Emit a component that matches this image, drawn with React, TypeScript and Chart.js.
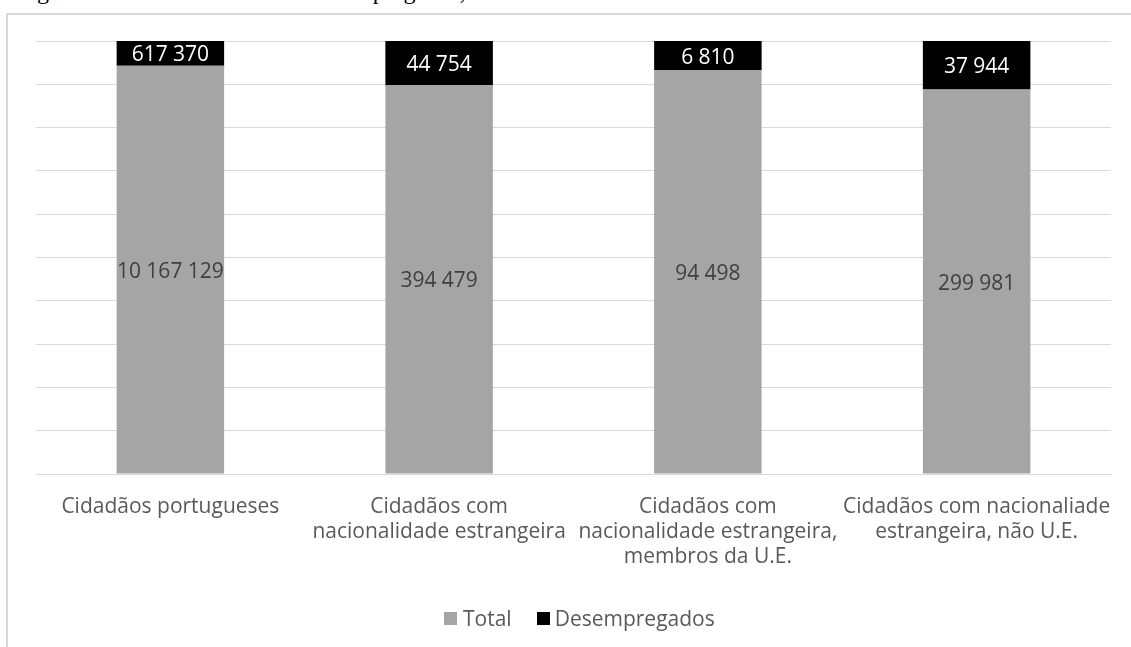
import React, { useEffect, useRef } from "react";
import { Chart, registerables } from "chart.js";

Chart.register(...registerables);

const categories: (string | string[])[] = [
  "Cidadãos portugueses",
  ["Cidadãos com", "nacionalidade estrangeira"],
  ["Cidadãos com", "nacionalidade estrangeira,", "membros da U.E."],
  ["Cidadãos com nacionaliade", "estrangeira, não U.E."],
];
const totalValues = [10167129, 394479, 94498, 299981];
const unemployedValues = [617370, 44754, 6810, 37944];
const seriesNames = ["Total", "Desempregados"];
const seriesColors = ["#A5A5A5", "#000000"];
const labelColors = ["#404040", "#FFFFFF"];

const FONT = "'Open Sans', sans-serif";

function fmt(n: number): string {
  return String(n).replace(/\B(?=(\d{3})+(?!\d))/g, " ");
}

const sums = totalValues.map((t, i) => t + unemployedValues[i]);
const totalPct = totalValues.map((t, i) => (t / sums[i]) * 100);
const unemployedPct = unemployedValues.map((u, i) => (u / sums[i]) * 100);
const rawSeries = [totalValues, unemployedValues];

const labelPlugin = {
  id: "segLabels",
  afterDatasetsDraw(chart: any) {
    const ctx = chart.ctx;
    ctx.save();
    ctx.font = `21px ${FONT}`;
    ctx.textAlign = "center";
    ctx.textBaseline = "middle";
    chart.data.datasets.forEach((ds: any, di: number) => {
      const meta = chart.getDatasetMeta(di);
      meta.data.forEach((el: any, i: number) => {
        const cy = (el.y + el.base) / 2;
        ctx.fillStyle = labelColors[di];
        ctx.fillText(fmt(rawSeries[di][i]), el.x, cy + 2);
      });
    });
    ctx.restore();
  },
};

export default function App() {
  const ref = useRef<HTMLCanvasElement | null>(null);

  useEffect(() => {
    if (!ref.current) return;
    const chart = new Chart(ref.current, {
      type: "bar",
      data: {
        labels: categories as any,
        datasets: [
          {
            label: seriesNames[0],
            data: totalPct,
            backgroundColor: seriesColors[0],
            borderWidth: 0,
            categoryPercentage: 1,
            barPercentage: 0.4,
          },
          {
            label: seriesNames[1],
            data: unemployedPct,
            backgroundColor: seriesColors[1],
            borderWidth: 0,
            categoryPercentage: 1,
            barPercentage: 0.4,
          },
        ],
      },
      options: {
        animation: false,
        responsive: false,
        maintainAspectRatio: false,
        devicePixelRatio: 1,
        layout: { padding: { left: 36, right: 20, top: 41, bottom: 0 } },
        plugins: {
          legend: { display: false },
          tooltip: { enabled: false },
          title: { display: false },
        },
        scales: {
          x: {
            stacked: true,
            grid: { display: false, drawTicks: false },
            border: { display: true, color: "#D9D9D9", width: 1 },
            ticks: {
              color: "#595959",
              font: { family: FONT, size: 21, lineHeight: 25 / 21 },
              padding: 21,
              maxRotation: 0,
              autoSkip: false,
            },
            afterFit: (scale: any) => {
              scale.height = 173;
              scale.paddingLeft = 0;
              scale.paddingRight = 0;
            },
          },
          y: {
            stacked: true,
            min: 0,
            max: 100,
            grid: { color: "#D9D9D9", lineWidth: 1, drawTicks: false },
            border: { display: false },
            ticks: { display: false, stepSize: 10 },
            afterFit: (scale: any) => {
              scale.width = 0;
            },
          },
        },
      },
      plugins: [labelPlugin],
    });
    return () => chart.destroy();
  }, []);

  return (
    <div
      style={{
        position: "absolute",
        left: 0,
        top: 0,
        width: 1131,
        height: 647,
        overflow: "hidden",
        background: "#FFFFFF",
      }}
    >
      <div
        style={{
          position: "absolute",
          left: 17,
          top: -21,
          fontFamily: "'Liberation Serif', serif",
          fontSize: 24,
          lineHeight: "24px",
          whiteSpace: "nowrap",
          color: "#000",
        }}
      >
        Figura 1 – Total de cidadãos e desempregados, 2011
      </div>
      <div
        style={{
          position: "absolute",
          left: 6,
          top: 13,
          width: 1200,
          height: 700,
          borderLeft: "2px solid #D9D9D9",
          borderTop: "2px solid #D9D9D9",
        }}
      />
      <canvas
        ref={ref}
        width={1131}
        height={647}
        style={{ position: "absolute", left: 0, top: 0, width: 1131, height: 647 }}
      />
      <div
        style={{
          position: "absolute",
          left: 444,
          top: 604,
          height: 28,
          display: "flex",
          alignItems: "center",
          fontFamily: FONT,
          fontSize: 21,
          color: "#595959",
          whiteSpace: "nowrap",
        }}
      >
        <span style={{ display: "inline-block", width: 13, height: 13, background: seriesColors[0], marginRight: 6 }} />
        <span>{seriesNames[0]}</span>
        <span style={{ display: "inline-block", width: 13, height: 13, background: seriesColors[1], marginLeft: 25, marginRight: 5 }} />
        <span>{seriesNames[1]}</span>
      </div>
    </div>
  );
}
